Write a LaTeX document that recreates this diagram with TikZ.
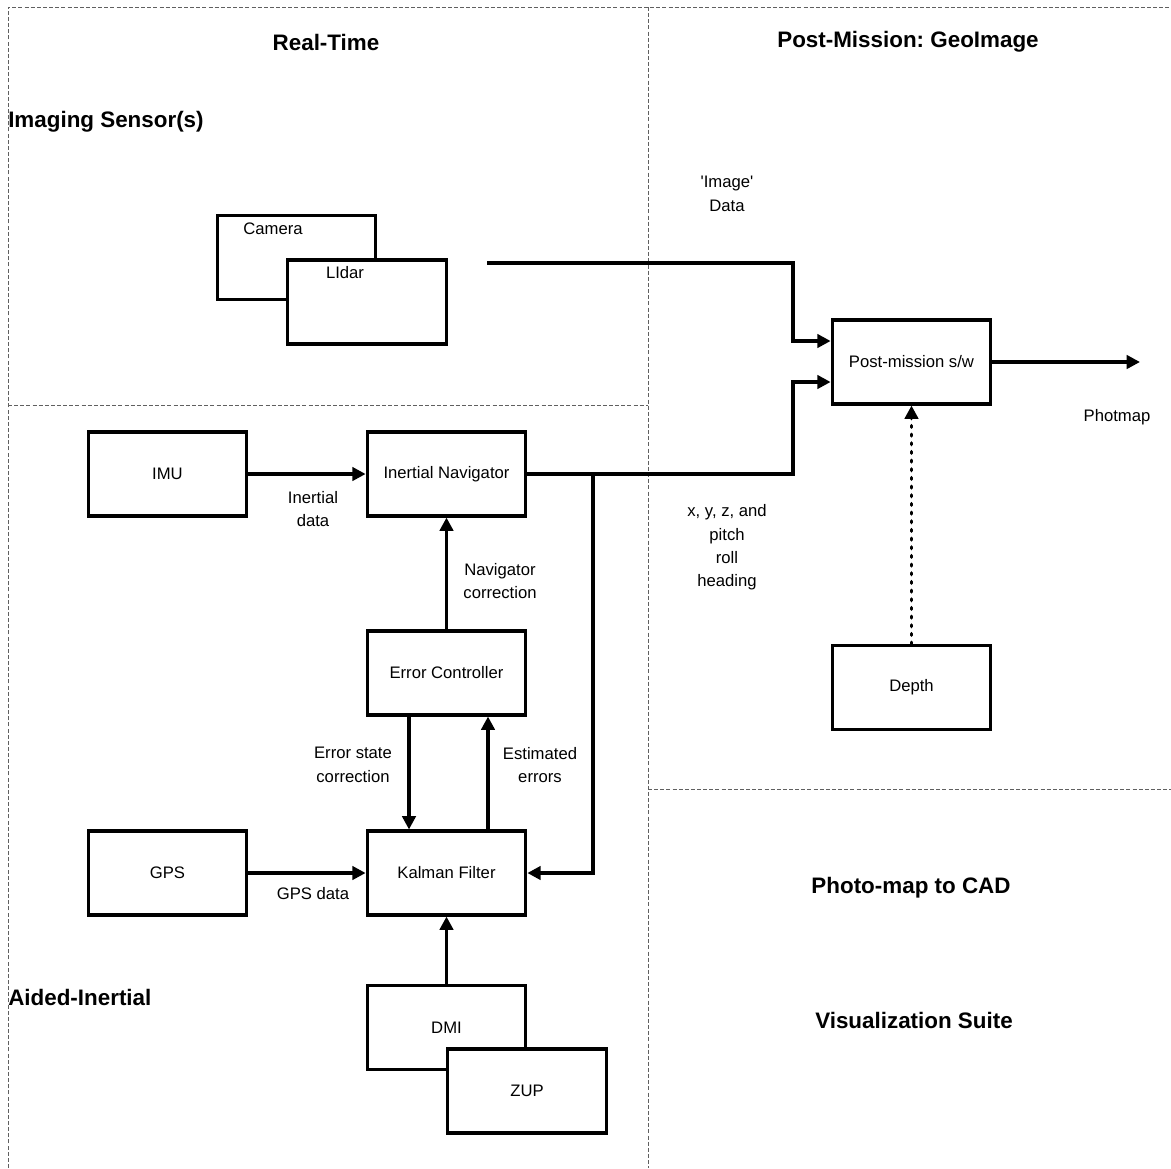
\documentclass[tikz,border=0pt]{standalone}
\usepackage{fontspec}
\setmainfont{Liberation Sans}
\frenchspacing
\usetikzlibrary{arrows.meta,calc}
\begin{document}
\begin{tikzpicture}[x=0.75pt,y=-0.75pt,
  frame/.style={gray!75!black, line width=0.7pt, dash pattern=on 3pt off 1.6pt},
  blk/.style={draw, line width=2.3pt, minimum width=119pt, minimum height=63pt, inner sep=0pt, fill=white, font=\fontsize{12.5}{17}\selectfont},
  txt/.style={font=\fontsize{12.5}{17.5}\selectfont, align=center, inner sep=0pt},
  ttl/.style={font=\fontsize{16.8}{20}\selectfont\bfseries, inner sep=0pt},
  conn/.style={line width=2.5pt, -{Triangle[length=10pt,width=10pt]}},
  dotconn/.style={line width=2.5pt, line cap=round, dash pattern=on 1.3pt off 5.2pt, -{Triangle[length=10pt,width=10pt]}},
]
\useasboundingbox (0,0) rectangle (1171,1168);

% frame
\draw[frame] (8,1168) -- (8,7) -- (1171,7);
\draw[frame] (648,7) -- (648,1168);
\draw[frame] (8,405) -- (648,405);
\draw[frame] (648,789) -- (1171,789);

% titles
\node[ttl] (tRT) at (326,42) {Real-Time};
\node[ttl] (tPM) at (908,42) {Post-Mission: GeoImage};
\node[ttl, anchor=west] (tIS) at (8,122) {Imaging Sensor(s)};
\node[ttl, anchor=west] (tAI) at (8,997) {Aided-Inertial};
\node[ttl] (tCAD) at (911,888) {Photo-map to CAD};
\node[ttl] (tVS) at (914,1020) {Visualization Suite};

% boxes
\node[blk] (cam) at (296.5,257.5) {};
\node[txt] (camt) at (273,229) {Camera};
\node[blk] (lidar) at (367,302) {};
\node[txt] (lidart) at (345,273) {LIdar};
\node[blk] (post) at (911.5,362) {Post-mission s/w};
\node[blk] (imu) at (167.5,474) {IMU};
\node[blk] (inav) at (446.5,474) {Inertial Navigator};
\node[blk] (ec) at (446.5,673) {Error Controller};
\node[blk] (gps) at (167.5,873) {GPS};
\node[blk] (kf) at (446.5,873) {Kalman Filter};
\node[blk] (dmi) at (446.5,1027.5) {DMI};
\node[blk] (zup) at (527,1091) {ZUP};
\node[blk] (depth) at (911.5,687.5) {Depth};

% labels
\node[txt] (limg) at (727,194) {\textquotesingle Image\textquotesingle\\Data};
\node[txt] (lphot) at (1117,417) {Photmap};
\node[txt] (lxyz) at (727,547.5) {x, y, z, and\\pitch\\roll\\heading};
\node[txt] (lin) at (313,509) {Inertial\\data};
\node[txt] (lnav) at (500,581) {Navigator\\correction};
\node[txt] (lerr) at (353,765) {Error state\\correction};
\node[txt] (lest) at (540,765) {Estimated\\errors};
\node[txt] (lgps) at (313,894) {GPS data};

% connectors
\coordinate (lidarout) at (487,263);
\coordinate (photout) at (1140,362);
\coordinate (branch) at (593,474);
\draw[conn] (lidarout) -- (793,263) -- (793,341) -- (post.west |- 0,341);
\draw[conn] (inav.east) -- (793,474) -- (793,382) -- (post.west |- 0,382);
\draw[conn] (post.east) -- (photout);
\draw[conn] (branch) -- (593,873) -- (kf.east);
\draw[conn] (imu.east) -- (inav.west);
\draw[conn] (ec.north) -- (inav.south);
\draw[conn] (ec.south -| 409,0) -- (kf.north -| 409,0);
\draw[conn] (kf.north -| 488,0) -- (ec.south -| 488,0);
\draw[conn] (gps.east) -- (kf.west);
\draw[conn] (dmi.north) -- (kf.south);
\draw[dotconn] (depth.north) -- (post.south);
\end{tikzpicture}
\end{document}
